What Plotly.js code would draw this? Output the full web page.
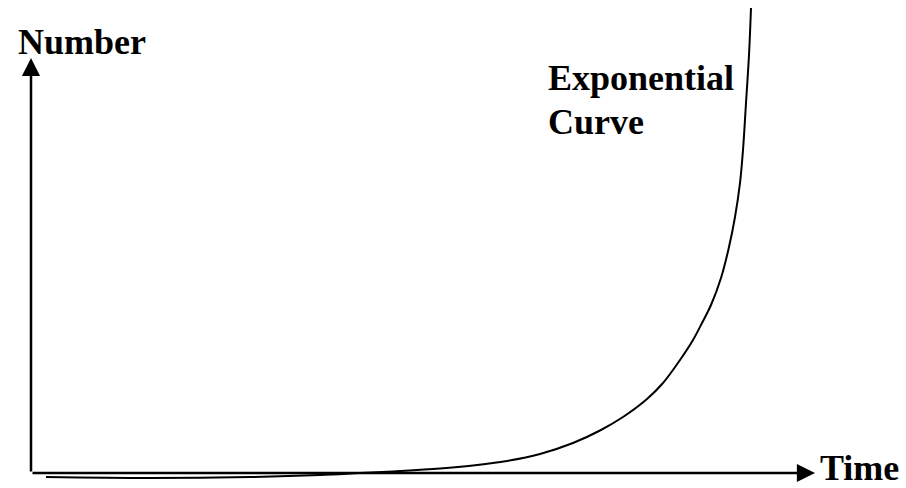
<!DOCTYPE html>
<html>
<head>
<meta charset="utf-8">
<script src="https://cdn.plot.ly/plotly-3.0.1.min.js"></script>
<style>html,body{margin:0;padding:0;background:#fff;}#chart{width:906px;height:488px;}</style>
</head>
<body>
<div id="chart"></div>
<script>
// Hand-drawn exponential curve (time, number)
const timeVals   = [15, 119, 219, 289, 329, 369, 409, 442, 476, 509, 542, 569, 592, 616, 632, 649, 662, 671, 680, 690, 698, 704, 709, 712, 715, 718, 720];
const numberVals = [-4, -5, -4, -2, 0, 2, 4.5, 7.5, 12, 19, 30, 42.5, 56, 74, 90, 113, 133, 150, 168, 195, 226, 256, 290, 323, 370, 418, 465];

const xAxisLabel = 'Time';
const yAxisLabel = 'Number';
const curveLabel = ['Exponential', 'Curve'];

// axis extents (data units)
const xRange = [-31, 875];
const yRange = [-15, 473];
const xAxisEnd = 784;
const yAxisEnd = 415;

const font = {family: 'Liberation Serif, Times New Roman, serif', size: 36, color: '#000'};

const trace = {
  x: timeVals, y: numberVals, type: 'scatter', mode: 'lines',
  line: {color: '#000', width: 2, shape: 'spline', smoothing: 1},
  hoverinfo: 'skip'
};

const arrowBase = {text: '', showarrow: true, arrowhead: 2, arrowsize: 1.45, arrowwidth: 2.5,
  arrowcolor: '#000', axref: 'x', ayref: 'y', xref: 'x', yref: 'y', standoff: 0};

const layout = {
  width: 906, height: 488,
  margin: {l: 0, r: 0, t: 0, b: 0, pad: 0},
  paper_bgcolor: '#fff', plot_bgcolor: '#fff',
  showlegend: false,
  xaxis: {range: xRange, visible: false, fixedrange: true},
  yaxis: {range: yRange, visible: false, fixedrange: true},
  annotations: [
    Object.assign({}, arrowBase, {x: 0, y: yAxisEnd, ax: 0, ay: 0}),
    Object.assign({}, arrowBase, {x: xAxisEnd, y: 0, ax: 0, ay: 0}),
    {text: '<b>' + yAxisLabel + '</b>', x: -15, y: 453, xref: 'x', yref: 'y', xanchor: 'left', yanchor: 'top', showarrow: false, font: font},
    {text: '<b>' + curveLabel[0] + '</b>', x: 515, y: 417, xref: 'x', yref: 'y', xanchor: 'left', yanchor: 'top', showarrow: false, font: font},
    {text: '<b>' + curveLabel[1] + '</b>', x: 515, y: 373, xref: 'x', yref: 'y', xanchor: 'left', yanchor: 'top', showarrow: false, font: font},
    {text: '<b>' + xAxisLabel + '</b>', x: 787, y: 27, xref: 'x', yref: 'y', xanchor: 'left', yanchor: 'top', showarrow: false, font: font}
  ]
};

Plotly.newPlot('chart', [trace], layout, {displayModeBar: false, staticPlot: true});
</script>
</body>
</html>
